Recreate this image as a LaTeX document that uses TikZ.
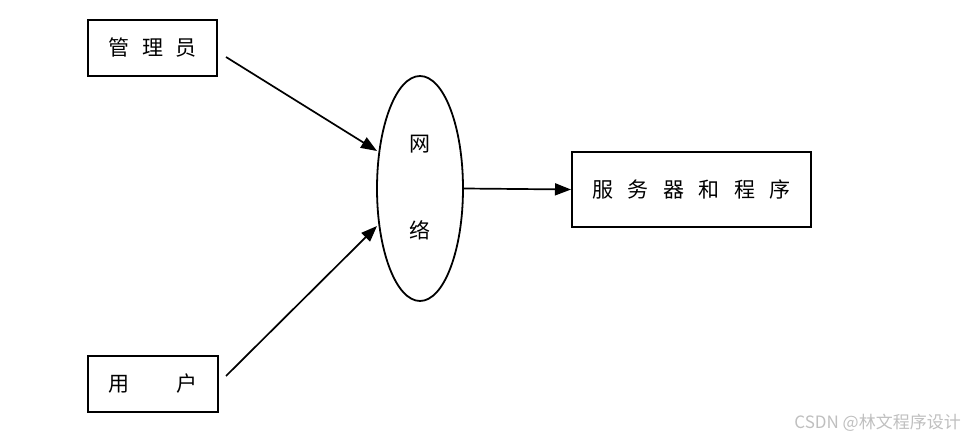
\documentclass[tikz,border=0pt]{standalone}
\usepackage{fontspec}
\newfontfamily\cjk{Noto Sans CJK SC}
\usetikzlibrary{arrows.meta,shapes.geometric}
\begin{document}
\begin{tikzpicture}[x=1pt,y=-1pt,
  box/.style={draw,line width=2pt,inner sep=0pt,font=\cjk\fontsize{21}{21}\selectfont},
  net/.style={draw,ellipse,line width=1.8pt,inner sep=0pt,minimum width=86pt,minimum height=225pt},
  conn/.style={line width=1.7pt,-{Triangle[length=16pt,width=12pt]}},
  lbl/.style={font=\cjk\fontsize{21}{21}\selectfont,inner sep=0pt}]
\useasboundingbox (0,0) rectangle (967,441);
\node[box,minimum width=129pt,minimum height=56pt] (admin) at (152.5,48.5) {\raisebox{3pt}{管\hspace{13pt}理\hspace{13pt}员}};
\node[box,minimum width=130pt,minimum height=56pt] (user) at (153,384) {\raisebox{3pt}{用\hspace{48pt}户}};
\node[box,minimum width=239pt,minimum height=75pt] (server) at (691.5,189.5) {\raisebox{1pt}{服\hspace{14.5pt}务\hspace{14.5pt}器\hspace{14.5pt}和\hspace{14.5pt}程\hspace{14.5pt}序}};
\node[net] (net) at (420,188.5) {};
\node[lbl] (w1) at (420,144) {网};
\node[lbl] (w2) at (420,230) {络};
\coordinate (a1) at (226,57);
\coordinate (a2) at (377,151);
\coordinate (u1) at (226,376);
\coordinate (u2) at (377,226);
\draw[conn] (a1) -- (a2);
\draw[conn] (u1) -- (u2);
\draw[conn] (net.east) -- (server.west);
\node[font=\cjk\fontsize{17}{17}\selectfont,text=black!25,anchor=east,inner sep=0pt] (wm) at (961,423) {CSDN @林文程序设计};
\end{tikzpicture}
\end{document}
